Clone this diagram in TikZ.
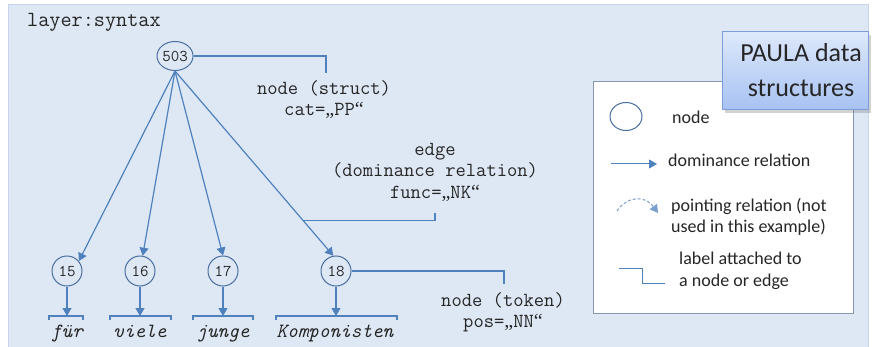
\documentclass[tikz,border=0pt]{standalone}
\usepackage{fontspec}
\setmainfont{Carlito}
\newfontfamily\qfont{Liberation Serif}
\newcommand{\myopenq}{{\qfont „}}
\newcommand{\mycloseq}{{\qfont “}}
\usetikzlibrary{shapes.geometric,arrows.meta,shadows}
\definecolor{bgc}{HTML}{DEE8F5}
\definecolor{panelc}{HTML}{C6D5EA}
\definecolor{linec}{HTML}{4F81BD}
\definecolor{circc}{HTML}{4A6FA0}
\definecolor{txtc}{HTML}{262626}
\definecolor{legc}{HTML}{8596B0}
\definecolor{ttop}{HTML}{DDE8FB}
\definecolor{tbot}{HTML}{A7C2F2}
\definecolor{tbord}{HTML}{7C9DD8}
\begin{document}
\begin{tikzpicture}[x=1pt,y=-1pt,
  tnode/.style={circle,draw=circc,line width=1pt,fill=bgc,minimum size=30pt,inner sep=0pt,
    font=\ttfamily\fontsize{16.5}{18}\selectfont,text=txtc},
  snode/.style={ellipse,draw=circc,line width=1pt,fill=bgc,minimum width=35pt,minimum height=29pt,
    inner sep=0pt,font=\ttfamily\fontsize{16.5}{18}\selectfont,text=txtc},
  mono/.style={font=\ttfamily\fontsize{20}{23}\selectfont,text=txtc,inner sep=0pt,anchor=base},
  word/.style={font=\ttfamily\itshape\fontsize{20.2}{23}\selectfont,text=txtc,inner sep=0pt,anchor=base},
  dom/.style={draw=linec,line width=1.2pt,-{Triangle[width=9pt,length=8pt]}},
  lbl/.style={draw=linec,line width=1.1pt},
  bracketline/.style={draw=linec,line width=1.1pt},
  legtext/.style={font=\fontsize{18}{21}\selectfont,text=txtc,inner sep=0pt,anchor=base west},
  titletext/.style={font=\fontsize{26}{30}\selectfont,text=txtc,inner sep=0pt,anchor=base},
]
\useasboundingbox (0,0) rectangle (872,347);
\fill[white] (0,0) rectangle (872,347);
% panel
\fill[bgc] (8,5) rectangle (868,347);
\draw[panelc,line width=1pt] (8,347) -- (8,5) -- (868,5) -- (868,347);

\node[mono,anchor=base west,font=\ttfamily\fontsize{21.6}{24}\selectfont] (layer) at (27,27) {layer:syntax};

% tree nodes
\node[snode] (n503) at (175,56) {503};
\node[tnode] (n15) at (67,271) {15};
\node[tnode] (n16) at (140,271) {16};
\node[tnode] (n17) at (223,271) {17};
\node[tnode] (n18) at (336,271) {18};

% dominance edges
\draw[dom] (n503.south) -- (n15.40);
\draw[dom] (n503.south) -- (n16.80);
\draw[dom] (n503.south) -- (n17.90);
\draw[dom] (n503.south) -- coordinate[pos=0.81] (eLab) (n18.100);

% brackets over tokens
\coordinate (b15) at (67,316);
\coordinate (b16) at (140,316);
\coordinate (b17) at (223,316);
\coordinate (b18) at (336,316);
\draw[bracketline] (49,320) -- (49,316) -- (83,316) -- (83,320);
\draw[bracketline] (110,320) -- (110,316) -- (171,316) -- (171,320);
\draw[bracketline] (193,320) -- (193,316) -- (253,316) -- (253,320);
\draw[bracketline] (276,320) -- (276,316) -- (397,316) -- (397,320);
\draw[dom] (n15.south) -- (b15);
\draw[dom] (n16.south) -- (b16);
\draw[dom] (n17.south) -- (b17);
\draw[dom] (n18.south) -- (b18);

% tokens
\node[word] (w15) at (67,337) {für};
\node[word] (w16) at (140,337) {viele};
\node[word] (w17) at (223,337) {junge};
\node[word] (w18) at (335,337) {Komponisten};

% labels
\coordinate (c503) at (326,73);
\draw[lbl] (n503.east) -| (c503);
\node[mono] (l503a) at (324,95) {node (struct)};
\node[mono] (l503b) at (324,116) {cat=\myopenq PP\mycloseq};

\coordinate (cedge) at (435,213);
\draw[lbl] (eLab) -| (cedge);
\node[mono] (leda) at (435,156) {edge};
\node[mono] (ledb) at (435,177) {(dominance relation)};
\node[mono] (ledc) at (435,199) {func=\myopenq NK\mycloseq};

\coordinate (c18) at (504,284);
\draw[lbl] (n18.east) -| (c18);
\node[mono] (l18a) at (503,306) {node (token)};
\node[mono] (l18b) at (503,327) {pos=\myopenq NN\mycloseq};

% legend
\draw[legc,fill=white,line width=1pt] (593,82) rectangle (853,313);
\node[ellipse,draw=circc,line width=1pt,minimum width=32pt,minimum height=28pt,inner sep=0pt] (legcirc) at (626,116.5) {};
\node[legtext] (legnode) at (672,123.5) {node};

\coordinate (ld1) at (611,164);
\coordinate (ld2) at (657,164);
\draw[dom,line width=1pt] (ld1) -- (ld2);
\node[legtext] (legdom) at (668,167) {dominance relation};

\coordinate (lp1) at (617,211);
\coordinate (lp2) at (658,213);
\draw[draw=linec!75,line width=1pt,dash pattern=on 3pt off 2pt,-{Triangle[width=9pt,length=8pt]}]
  (lp1) .. controls (627,196) and (645,195) .. (lp2);
\node[legtext] (legpt1) at (671,212) {pointing relation (not};
\node[legtext] (legpt2) at (671,233) {used in this example)};

\coordinate (ll1) at (619,268);
\coordinate (ll2) at (665,283);
\draw[lbl,line width=1pt] (ll1) -- (642,268) -- (642,283) -- (ll2);
\node[legtext] (leglb1) at (679,265) {label attached to};
\node[legtext] (leglb2) at (679,287) {a node or edge};

% title box
\node[draw=tbord,line width=1pt,top color=ttop,bottom color=tbot,
  drop shadow={shadow xshift=3pt,shadow yshift=-3pt,opacity=0.35},
  minimum width=146pt,minimum height=78pt,inner sep=0pt] (title) at (795,71) {};
\node[titletext] (title1) at (801,62) {PAULA data};
\node[titletext] (title2) at (801,97) {structures};
\end{tikzpicture}
\end{document}
